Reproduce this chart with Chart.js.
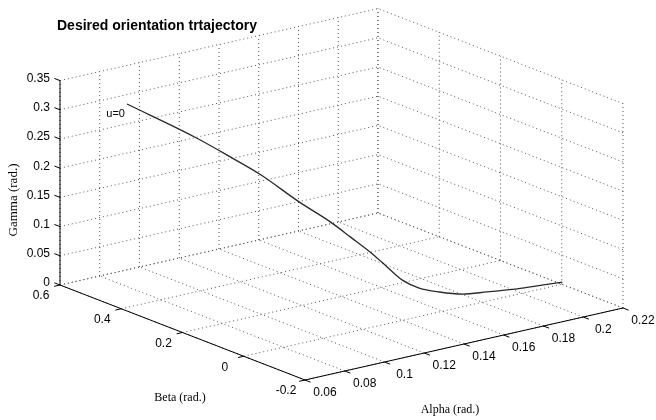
<!DOCTYPE html>
<html>
<head>
<meta charset="utf-8">
<script src="https://cdn.jsdelivr.net/npm/chart.js@4"></script>
<style>
  html, body { margin: 0; padding: 0; background: #fff; }
  canvas { display: block; }
</style>
</head>
<body>
<canvas id="chart" width="656" height="420"></canvas>
<script>
/* --- Data --- */

const alphaTicks = [0.06, 0.08, 0.1, 0.12, 0.14, 0.16, 0.18, 0.2, 0.22];
const betaTicks = [-0.2, 0, 0.2, 0.4, 0.6];
const gammaTicks = [0, 0.05, 0.1, 0.15, 0.2, 0.25, 0.3, 0.35];

// desired trajectory, u = 0 first
const alphaPath = [0.086, 0.102, 0.109, 0.116, 0.125, 0.133, 0.139, 0.146, 0.150, 0.156, 0.162, 0.170, 0.179, 0.190, 0.202, 0.213, 0.222];
const betaPath  = [0.550, 0.433, 0.362, 0.308, 0.240, 0.191, 0.165, 0.134, 0.116, 0.105, 0.089, 0.075, 0.058, 0.049, 0.029, 0.019, 0.011];
const gammaPath = [0.300, 0.255, 0.230, 0.205, 0.165, 0.135, 0.110, 0.080, 0.060, 0.035, 0.020, 0.010, 0.003, 0, 0, 0, 0];

const TITLE = 'Desired orientation trtajectory';
const START_LABEL = 'u=0';

/* --- 3D view: screen position of (alpha0, beta0, 0) and screen step per unit --- */

const VIEW = {
  ox: 305, oy: 380,
  ax: 1987.5, ay: -450,
  bx: -306.25, by: -118.75,
  gy: -584,
};
const A0 = alphaTicks[0], A1 = alphaTicks[alphaTicks.length - 1];
const B0 = betaTicks[0], B1 = betaTicks[betaTicks.length - 1];
const G1 = gammaTicks[gammaTicks.length - 1];

function project(a, b, g) {
  return {
    x: VIEW.ox + (a - A0) * VIEW.ax + (b - B0) * VIEW.bx,
    y: VIEW.oy + (a - A0) * VIEW.ay + (b - B0) * VIEW.by + g * VIEW.gy,
  };
}

// a point with no y breaks the line, so one dataset can hold many segments
function gapAfter(p) {
  return { x: p.x, y: null };
}

function segments(list) {
  const pts = [];
  list.forEach(([p, q]) => {
    const end = project(...q);
    pts.push(project(...p), end, gapAfter(end));
  });
  return pts;
}

function unit(x, y) {
  const l = Math.hypot(x, y);
  return [x / l, y / l];
}

/* --- Grid: back wall (beta max), side wall (alpha max), floor --- */

const gridSegs = [];
alphaTicks.forEach(a => gridSegs.push([[a, B1, 0], [a, B1, G1]]));
gammaTicks.forEach(g => gridSegs.push([[A0, B1, g], [A1, B1, g]]));
betaTicks.forEach(b => gridSegs.push([[A1, b, 0], [A1, b, G1]]));
gammaTicks.forEach(g => gridSegs.push([[A1, B0, g], [A1, B1, g]]));
alphaTicks.forEach(a => gridSegs.push([[a, B0, 0], [a, B1, 0]]));
betaTicks.forEach(b => gridSegs.push([[A0, b, 0], [A1, b, 0]]));

const axisSegs = [
  [[A0, B1, 0], [A0, B1, G1]],
  [[A0, B0, 0], [A0, B1, 0]],
  [[A0, B0, 0], [A1, B0, 0]],
];

/* --- Tick marks (screen directions follow the other axes) --- */

const TICK = 6;
const dirA = unit(-VIEW.ax, -VIEW.ay);   // beta ticks point toward -alpha
const dirB = unit(-VIEW.bx, -VIEW.by);   // alpha ticks point toward -beta
const dirG = unit(VIEW.bx, VIEW.by);     // gamma ticks point toward +beta

const tickPts = [];
function addTick(p, d) {
  const end = { x: p.x + d[0] * TICK, y: p.y + d[1] * TICK };
  tickPts.push(p, end, gapAfter(end));
}
gammaTicks.forEach(g => addTick(project(A0, B1, g), dirG));
betaTicks.forEach(b => addTick(project(A0, b, 0), dirA));
alphaTicks.forEach(a => addTick(project(a, B0, 0), dirB));

const curvePts = alphaPath.map((a, i) => project(a, betaPath[i], gammaPath[i]));

/* --- Text labels --- */

const SANS = "'Liberation Sans', Arial, Helvetica, sans-serif";
const SERIF = "'Liberation Serif', 'Times New Roman', serif";

const labelPlugin = {
  id: 'labels3d',
  afterDraw(chart) {
    const ctx = chart.ctx;
    ctx.save();
    ctx.fillStyle = '#000';

    ctx.font = 'bold 14px ' + SANS;
    ctx.textAlign = 'left';
    ctx.textBaseline = 'alphabetic';
    ctx.fillText(TITLE, 57, 30);

    ctx.font = '12px ' + SANS;
    ctx.textBaseline = 'middle';
    ctx.textAlign = 'right';
    gammaTicks.forEach(g => {
      const p = project(A0, B1, g);
      ctx.fillText(String(g), p.x - 10, p.y - 2);
    });
    ctx.textAlign = 'center';
    betaTicks.forEach(b => {
      const p = project(A0, b, 0);
      ctx.fillText(String(b), p.x - 19, p.y + 11);
    });
    alphaTicks.forEach(a => {
      const p = project(a, B0, 0);
      ctx.fillText(String(a), p.x + 20, p.y + 13);
    });

    ctx.font = '11px ' + SANS;
    ctx.textAlign = 'right';
    const s = curvePts[0];
    ctx.fillText(START_LABEL, s.x - 2, s.y + 10);

    ctx.font = '12px ' + SERIF;
    ctx.textAlign = 'center';
    ctx.fillText('Beta (rad.)', 180, 398);
    ctx.fillText('Alpha (rad.)', 450, 410);
    ctx.translate(14, 200);
    ctx.rotate(-Math.PI / 2);
    ctx.font = '13px ' + SERIF;
    ctx.fillText('Gamma (rad.)', 0, 0);
    ctx.restore();
  }
};

new Chart(document.getElementById('chart'), {
  type: 'line',
  data: {
    datasets: [
      {
        label: 'trajectory',
        data: curvePts,
        borderColor: '#2a2a2a',
        borderWidth: 1.3,
        cubicInterpolationMode: 'monotone',
        order: 0,
      },
      {
        label: 'axes',
        data: segments(axisSegs),
        borderColor: '#000',
        borderWidth: 1,
        spanGaps: false,
        order: 1,
      },
      {
        label: 'ticks',
        data: tickPts,
        borderColor: '#000',
        borderWidth: 1,
        spanGaps: false,
        order: 1,
      },
      {
        label: 'grid',
        data: segments(gridSegs),
        borderColor: '#555',
        borderWidth: 1,
        borderDash: [1, 3],
        spanGaps: false,
        order: 2,
      },
    ]
  },
  options: {
    responsive: false,
    animation: false,
    layout: { padding: 0 },
    elements: { point: { radius: 0, hoverRadius: 0 } },
    plugins: { legend: { display: false }, tooltip: { enabled: false } },
    scales: {
      x: { type: 'linear', min: 0, max: 656, display: false },
      y: { type: 'linear', min: 0, max: 420, reverse: true, display: false },
    }
  },
  plugins: [labelPlugin]
});
</script>
</body>
</html>
